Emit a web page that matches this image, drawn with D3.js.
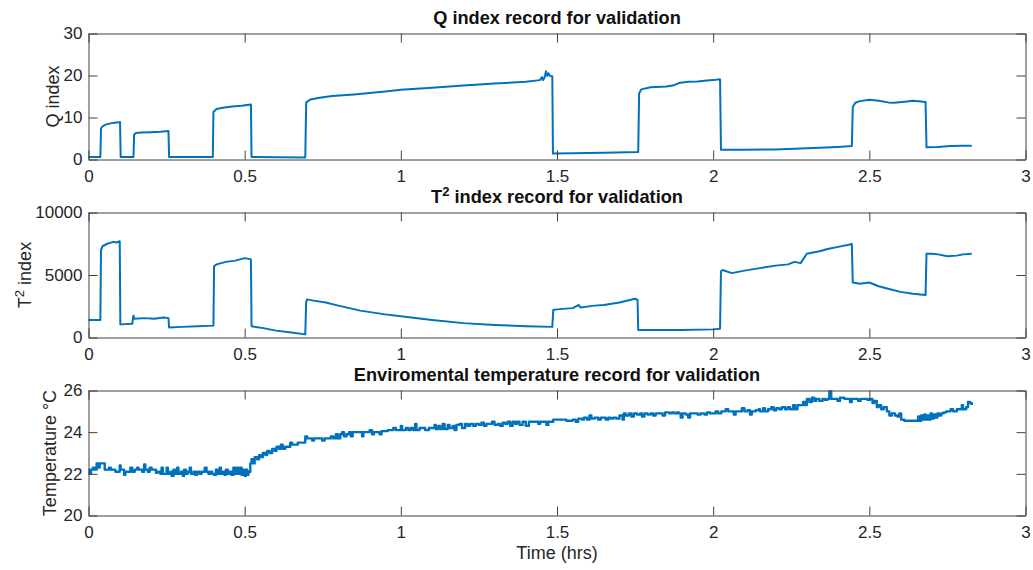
<!DOCTYPE html>
<html>
<head>
<meta charset="utf-8">
<script src="https://cdn.jsdelivr.net/npm/d3@7"></script>
<style>
  body { margin: 0; background: #fff; }
  svg text { font-family: "Liberation Sans", Arial, Helvetica, sans-serif; }
</style>
</head>
<body>
<div id="chart"></div>
<script>
/**
 * DATA
 * each series is [time in hrs, value]
 * */
const xTicks = [0, 0.5, 1, 1.5, 2, 2.5, 3];
const qTicks = [0, 10, 20, 30];
const t2Ticks = [0, 5000, 10000];
const tempTicks = [20, 22, 24, 26];

const qIndex = [
  [0, 0.6], [0.038, 0.6], [0.040, 7.3], [0.045, 7.9], [0.055, 8.3], [0.07, 8.6], [0.09, 8.8], [0.101, 8.9],
  [0.103, 0.6], [0.144, 0.6], [0.146, 5.9], [0.152, 6.3], [0.17, 6.4], [0.20, 6.5], [0.23, 6.6], [0.256, 6.8],
  [0.258, 0.6], [0.398, 0.6], [0.400, 11.3], [0.41, 12.0], [0.43, 12.3], [0.46, 12.6], [0.49, 12.8], [0.520, 13.1],
  [0.522, 0.6], [0.694, 0.5], [0.697, 13.6], [0.71, 14.3], [0.74, 14.7], [0.78, 15.1], [0.85, 15.5], [0.95, 16.2],
  [1.0, 16.6], [1.1, 17.1], [1.2, 17.6], [1.3, 18.1], [1.4, 18.5], [1.445, 18.9], [1.452, 19.6], [1.455, 18.9],
  [1.46, 19.5], [1.465, 21.0], [1.469, 19.9], [1.473, 20.5], [1.478, 19.9], [1.485, 19.8], [1.487, 1.4],
  [1.55, 1.5], [1.65, 1.6], [1.760, 1.8], [1.763, 15.8], [1.77, 16.7], [1.80, 17.2], [1.85, 17.4], [1.875, 17.7],
  [1.89, 18.2], [1.92, 18.5], [1.95, 18.6], [1.98, 18.8], [2.0, 18.9], [2.022, 19.1], [2.025, 2.3], [2.1, 2.3],
  [2.2, 2.4], [2.3, 2.7], [2.4, 3.0], [2.444, 3.2], [2.447, 12.5], [2.455, 13.5], [2.47, 13.9], [2.50, 14.2],
  [2.53, 14.0], [2.56, 13.6], [2.58, 13.5], [2.62, 13.8], [2.64, 14.0], [2.665, 13.8], [2.680, 13.7], [2.683, 2.9],
  [2.72, 3.0], [2.76, 3.2], [2.80, 3.3], [2.828, 3.3]
];

const t2Index = [
  [0, 1400], [0.038, 1400], [0.040, 7000], [0.045, 7300], [0.06, 7500], [0.08, 7650], [0.09, 7600], [0.10, 7700],
  [0.102, 1050], [0.14, 1100], [0.144, 1750], [0.147, 1500], [0.18, 1550], [0.21, 1500], [0.24, 1600], [0.256, 1550],
  [0.258, 800], [0.30, 850], [0.35, 900], [0.40, 950], [0.402, 5700], [0.41, 5850], [0.44, 6050], [0.47, 6150],
  [0.50, 6350], [0.52, 6250], [0.522, 900], [0.56, 750], [0.60, 550], [0.65, 400], [0.694, 250], [0.697, 2850],
  [0.70, 3050], [0.72, 2950], [0.76, 2800], [0.80, 2550], [0.87, 2150], [0.95, 1850], [1.0, 1700], [1.1, 1400],
  [1.2, 1150], [1.3, 1000], [1.4, 900], [1.485, 850], [1.488, 2200], [1.50, 2250], [1.55, 2350], [1.57, 2600],
  [1.575, 2400], [1.62, 2550], [1.65, 2600], [1.70, 2800], [1.75, 3100], [1.758, 3000], [1.760, 600], [1.80, 600],
  [1.90, 600], [2.0, 650], [2.022, 700], [2.025, 5300], [2.03, 5400], [2.06, 5150], [2.10, 5350], [2.15, 5550],
  [2.20, 5750], [2.24, 5850], [2.26, 6050], [2.28, 5950], [2.30, 6700], [2.34, 6900], [2.37, 7100], [2.40, 7250],
  [2.43, 7400], [2.444, 7480], [2.447, 4400], [2.47, 4300], [2.50, 4400], [2.53, 4100], [2.56, 3900], [2.60, 3650],
  [2.64, 3500], [2.68, 3400], [2.683, 6700], [2.70, 6700], [2.72, 6650], [2.75, 6500], [2.78, 6550], [2.80, 6650],
  [2.828, 6700]
];

const temperature = [
  [0.000, 22.2], [0.004, 22.0], [0.008, 22.2], [0.014, 22.3], [0.020, 22.2], [0.026, 22.5], [0.032, 22.3], [0.036, 22.5],
  [0.048, 22.5], [0.052, 22.2], [0.062, 22.2], [0.066, 22.3], [0.072, 22.2], [0.082, 22.2], [0.086, 22.1], [0.094, 22.1],
  [0.100, 22.4], [0.103, 22.2], [0.110, 22.2], [0.114, 21.95], [0.118, 22.1], [0.130, 22.1], [0.134, 22.3], [0.140, 22.1],
  [0.148, 22.2], [0.156, 22.3], [0.160, 22.2], [0.168, 22.2], [0.172, 22.1], [0.178, 22.45], [0.182, 22.2], [0.190, 22.1],
  [0.196, 22.3], [0.202, 22.2], [0.212, 22.2], [0.216, 22.05], [0.222, 22.1], [0.230, 22.0], [0.234, 22.3], [0.238, 22.0],
  [0.246, 22.0], [0.250, 22.3], [0.254, 22.0], [0.262, 22.1], [0.266, 21.9], [0.272, 22.2], [0.278, 22.0], [0.284, 22.3],
  [0.288, 22.0], [0.296, 22.1], [0.302, 21.9], [0.306, 22.2], [0.312, 22.0], [0.318, 22.1], [0.324, 22.3], [0.328, 22.0],
  [0.336, 22.1], [0.342, 21.95], [0.348, 22.1], [0.356, 22.0], [0.362, 22.1], [0.368, 22.1], [0.372, 22.3], [0.378, 22.1],
  [0.384, 22.0], [0.390, 22.1], [0.396, 22.0], [0.402, 21.95], [0.408, 22.2], [0.414, 22.0], [0.420, 22.3], [0.424, 22.0],
  [0.430, 22.1], [0.436, 21.95], [0.440, 22.2], [0.446, 22.0], [0.452, 22.1], [0.458, 21.95], [0.464, 22.3], [0.470, 22.0],
  [0.476, 22.3], [0.480, 22.0], [0.486, 22.3], [0.490, 21.95], [0.496, 22.2], [0.500, 21.9], [0.504, 22.2], [0.508, 21.95],
  [0.512, 22.1], [0.518, 22.5], [0.522, 22.7], [0.528, 22.5], [0.532, 22.8], [0.540, 22.7], [0.546, 22.9], [0.552, 22.8],
  [0.558, 23.0], [0.566, 22.9], [0.572, 23.1], [0.580, 23.0], [0.588, 23.2], [0.596, 23.1], [0.602, 23.3], [0.610, 23.2],
  [0.616, 23.4], [0.622, 23.2], [0.630, 23.3], [0.640, 23.3], [0.646, 23.5], [0.652, 23.4], [0.664, 23.4], [0.670, 23.5],
  [0.680, 23.5], [0.690, 23.5], [0.694, 23.8], [0.700, 23.7], [0.710, 23.7], [0.716, 23.6], [0.722, 23.7], [0.740, 23.7],
  [0.748, 23.6], [0.756, 23.7], [0.770, 23.7], [0.776, 23.8], [0.784, 23.7], [0.792, 23.9], [0.798, 23.7], [0.806, 23.9],
  [0.812, 24.0], [0.818, 23.8], [0.826, 23.9], [0.834, 24.0], [0.840, 23.8], [0.846, 24.0], [0.856, 24.0], [0.866, 24.0],
  [0.872, 24.0], [0.876, 23.8], [0.880, 24.0], [0.892, 24.0], [0.900, 24.1], [0.908, 23.9], [0.914, 24.0], [0.926, 24.0],
  [0.932, 23.9], [0.938, 24.05], [0.950, 24.05], [0.958, 24.1], [0.970, 24.1], [0.976, 24.2], [0.984, 24.1], [0.996, 24.1],
  [1.000, 24.3], [1.004, 24.1], [1.016, 24.2], [1.024, 24.1], [1.032, 24.2], [1.040, 24.1], [1.046, 24.4], [1.050, 24.1],
  [1.060, 24.2], [1.070, 24.2], [1.078, 24.1], [1.090, 24.2], [1.100, 24.2], [1.108, 24.35], [1.112, 24.15], [1.120, 24.3],
  [1.126, 24.15], [1.134, 24.4], [1.140, 24.15], [1.150, 24.35], [1.156, 24.2], [1.166, 24.3], [1.172, 24.1], [1.178, 24.35],
  [1.188, 24.4], [1.196, 24.2], [1.206, 24.4], [1.214, 24.3], [1.222, 24.4], [1.232, 24.3], [1.240, 24.4], [1.250, 24.35],
  [1.258, 24.45], [1.266, 24.3], [1.274, 24.4], [1.284, 24.4], [1.292, 24.5], [1.300, 24.35], [1.310, 24.4], [1.318, 24.3],
  [1.326, 24.45], [1.334, 24.4], [1.342, 24.5], [1.350, 24.3], [1.358, 24.5], [1.366, 24.4], [1.372, 24.5], [1.380, 24.35],
  [1.390, 24.5], [1.400, 24.3], [1.410, 24.5], [1.420, 24.5], [1.432, 24.5], [1.440, 24.4], [1.446, 24.5], [1.460, 24.5],
  [1.466, 24.35], [1.472, 24.5], [1.480, 24.5], [1.488, 24.6], [1.500, 24.6], [1.520, 24.6], [1.530, 24.55], [1.550, 24.6],
  [1.560, 24.5], [1.568, 24.65], [1.580, 24.6], [1.586, 24.7], [1.596, 24.6], [1.604, 24.8], [1.610, 24.65], [1.620, 24.7],
  [1.632, 24.6], [1.640, 24.7], [1.656, 24.6], [1.664, 24.7], [1.672, 24.65], [1.680, 24.7], [1.690, 24.65], [1.700, 24.8],
  [1.710, 24.6], [1.714, 24.9], [1.720, 24.8], [1.730, 24.9], [1.738, 24.75], [1.746, 24.9], [1.756, 24.85], [1.766, 24.9],
  [1.772, 24.75], [1.780, 24.9], [1.790, 24.85], [1.800, 24.9], [1.808, 24.8], [1.816, 24.9], [1.830, 24.9], [1.838, 24.8],
  [1.846, 24.95], [1.860, 24.9], [1.868, 24.95], [1.876, 24.9], [1.884, 24.95], [1.890, 24.9], [1.896, 24.7], [1.902, 24.9],
  [1.912, 24.85], [1.920, 24.7], [1.926, 24.9], [1.940, 24.9], [1.950, 24.85], [1.960, 24.9], [1.972, 24.85], [1.980, 24.95],
  [1.990, 24.9], [2.000, 24.9], [2.008, 25.0], [2.016, 24.9], [2.026, 25.0], [2.040, 25.1], [2.048, 25.0], [2.062, 25.0],
  [2.066, 24.85], [2.072, 25.0], [2.086, 25.0], [2.092, 25.15], [2.100, 25.0], [2.110, 25.05], [2.118, 24.85], [2.124, 25.0],
  [2.136, 25.05], [2.146, 25.1], [2.150, 25.0], [2.160, 25.15], [2.166, 25.0], [2.176, 25.1], [2.186, 25.2], [2.194, 25.05],
  [2.202, 25.15], [2.212, 25.1], [2.220, 25.2], [2.230, 25.1], [2.238, 25.2], [2.246, 25.1], [2.256, 25.3], [2.262, 25.1],
  [2.270, 25.3], [2.280, 25.3], [2.288, 25.45], [2.294, 25.3], [2.300, 25.6], [2.308, 25.45], [2.316, 25.65], [2.324, 25.5],
  [2.330, 25.6], [2.340, 25.5], [2.350, 25.6], [2.358, 25.55], [2.366, 25.6], [2.372, 25.95], [2.378, 25.6], [2.390, 25.6],
  [2.398, 25.5], [2.406, 25.65], [2.420, 25.6], [2.430, 25.6], [2.438, 25.45], [2.444, 25.6], [2.456, 25.6], [2.464, 25.5],
  [2.472, 25.6], [2.484, 25.6], [2.494, 25.55], [2.502, 25.6], [2.510, 25.4], [2.516, 25.5], [2.524, 25.2], [2.530, 25.3],
  [2.538, 25.1], [2.546, 25.2], [2.556, 25.0], [2.564, 24.8], [2.572, 24.9], [2.582, 24.8], [2.590, 24.75], [2.596, 24.9],
  [2.602, 24.6], [2.612, 24.55], [2.624, 24.55], [2.640, 24.55], [2.650, 24.55], [2.656, 24.75], [2.660, 24.55], [2.666, 24.8],
  [2.670, 24.6], [2.676, 24.85], [2.680, 24.6], [2.686, 24.8], [2.690, 24.6], [2.696, 24.9], [2.700, 24.65], [2.706, 24.85],
  [2.712, 24.7], [2.718, 24.9], [2.724, 24.8], [2.730, 24.9], [2.738, 24.95], [2.746, 25.0], [2.754, 25.0], [2.760, 25.1],
  [2.768, 25.0], [2.780, 25.1], [2.790, 25.1], [2.796, 25.3], [2.800, 25.1], [2.810, 25.2], [2.816, 25.45], [2.822, 25.4],
  [2.828, 25.3]
];

/**
 * LAYOUT
 * */
const width = 1033,
  height = 570,
  left = 88.5,
  right = 1025.5,
  lineColor = "#0072bd",
  axisColor = "#404040";

const panels = [
  { data: qIndex, top: 33.5, bottom: 159.5, domain: [0, 30], ticks: qTicks, curve: d3.curveLinear, lw: 2,
    title: ["Q index record for validation"], label: ["Q index"], labelX: 59 },
  { data: t2Index, top: 212.5, bottom: 337.5, domain: [0, 10000], ticks: t2Ticks, curve: d3.curveLinear, lw: 2,
    title: ["T", "2", " index record for validation"], label: ["T", "2", " index"], labelX: 31 },
  // the temperature sensor is quantised, so it is drawn as steps
  { data: temperature, top: 390.5, bottom: 515.5, domain: [20, 26], ticks: tempTicks, curve: d3.curveStepAfter, lw: 2.4,
    title: ["Enviromental temperature record for validation"], label: ["Temperature \u00b0C"], labelX: 56 }
];

const svg = d3.select("#chart")
  .append("svg")
  .attr("width", width)
  .attr("height", height);

const x = d3.scaleLinear().domain([0, 3]).range([left, right]);

// writes text with an optional superscript in the middle piece
function addPieces(sel, pieces) {
  pieces.forEach((p, i) => {
    const ts = sel.append("tspan").text(p);
    if (pieces.length > 1 && i == 1) ts.attr("dy", -7).attr("font-size", "72%");
    if (pieces.length > 1 && i == 2) ts.attr("dy", 7);
  });
}

panels.forEach(p => {
  const y = d3.scaleLinear().domain(p.domain).range([p.bottom, p.top]);
  const g = svg.append("g");

  // the trace
  g.append("path")
    .datum(p.data)
    .attr("fill", "none")
    .attr("stroke", lineColor)
    .attr("stroke-width", p.lw)
    .attr("stroke-linejoin", "round")
    .attr("d", d3.line().curve(p.curve).x(d => x(d[0])).y(d => y(d[1])));

  // axes with inward ticks on all four sides (box on)
  const styleAxis = a => {
    a.attr("color", axisColor)
      .attr("font-size", 17)
      .attr("font-family", "'Liberation Sans', Arial, Helvetica, sans-serif");
    a.selectAll("text").attr("fill", "#262626");
  };

  g.append("g")
    .attr("transform", `translate(0,${p.bottom})`)
    .call(d3.axisBottom(x).tickValues(xTicks).tickSizeInner(-9).tickSizeOuter(0)
      .tickPadding(10.5).tickFormat(d => d))
    .call(styleAxis);
  g.append("g")
    .attr("transform", `translate(0,${p.top})`)
    .call(d3.axisTop(x).tickValues(xTicks).tickSizeInner(-9).tickSizeOuter(0).tickFormat(""))
    .call(styleAxis);
  g.append("g")
    .attr("transform", `translate(${left},0)`)
    .call(d3.axisLeft(y).tickValues(p.ticks).tickSizeInner(-9).tickSizeOuter(0)
      .tickPadding(6).tickFormat(d => d))
    .call(styleAxis);
  g.append("g")
    .attr("transform", `translate(${right},0)`)
    .call(d3.axisRight(y).tickValues(p.ticks).tickSizeInner(-9).tickSizeOuter(0).tickFormat(""))
    .call(styleAxis);

  // title
  const title = g.append("text")
    .attr("x", (left + right) / 2)
    .attr("y", p.top - 10)
    .attr("text-anchor", "middle")
    .attr("font-size", 18.2)
    .attr("font-weight", "bold")
    .attr("fill", "#111");
  addPieces(title, p.title);

  // y label
  const label = g.append("text")
    .attr("transform", `translate(${p.labelX},${(p.top + p.bottom) / 2}) rotate(-90)`)
    .attr("text-anchor", "middle")
    .attr("font-size", 18)
    .attr("fill", "#262626");
  addPieces(label, p.label);
});

svg.append("text")
  .attr("x", (left + right) / 2)
  .attr("y", 559)
  .attr("text-anchor", "middle")
  .attr("font-size", 18)
  .attr("fill", "#262626")
  .text("Time (hrs)");
</script>
</body>
</html>
